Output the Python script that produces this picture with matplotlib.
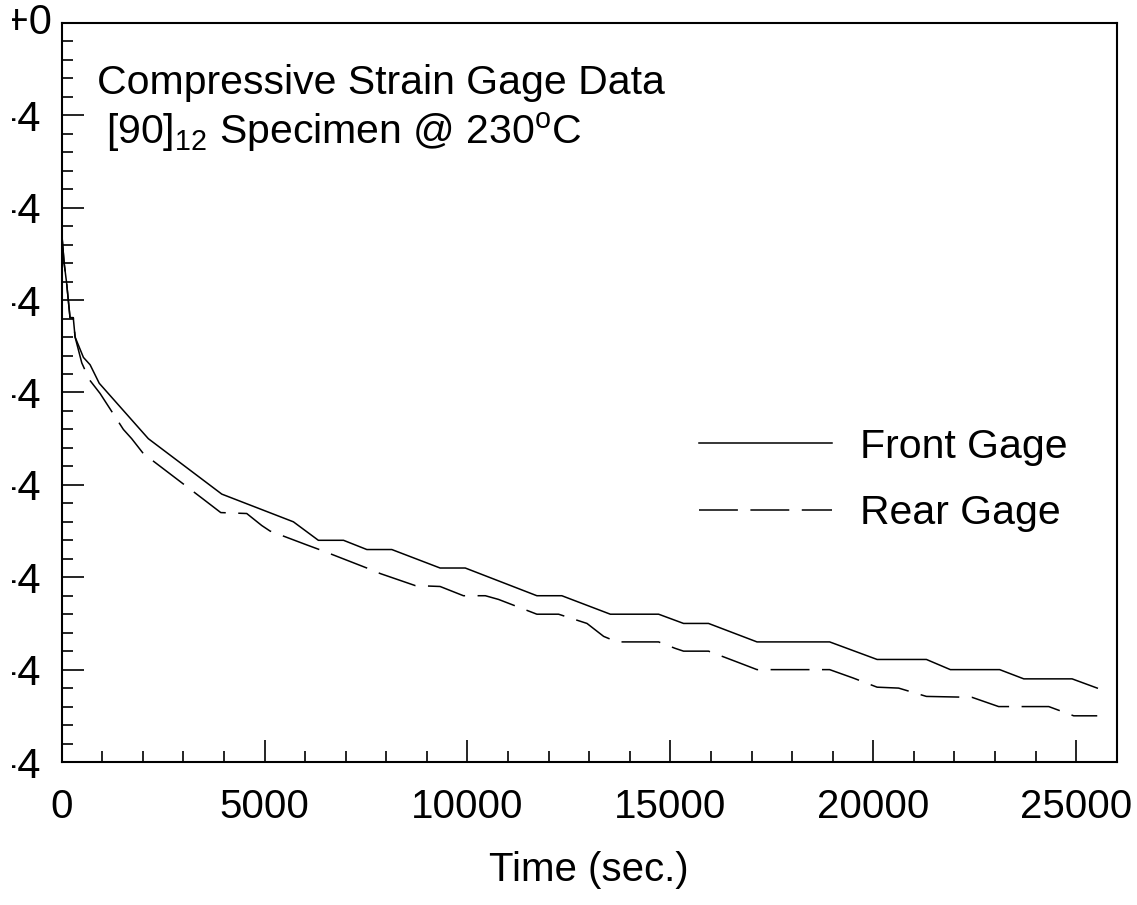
import numpy as np
import matplotlib
matplotlib.use("Agg")
import matplotlib.pyplot as plt
from matplotlib.ticker import MultipleLocator, FuncFormatter
from matplotlib.transforms import ScaledTranslation, Bbox, TransformedBbox

# ---- data (strain in units of 1E-4) ----
front_time = [0, 60, 120, 205, 285, 330, 535, 700, 925, 2135, 3945, 5710,
              6325, 6945, 7520, 8135, 9325, 9945, 11710, 12325, 13520, 14710,
              15325, 15940, 17135, 18925, 20095, 21310, 21900, 23115, 23710,
              24900, 25520]
front_strain = [-2.27, -2.60, -2.81, -3.19, -3.19, -3.40, -3.62, -3.70, -3.90,
                -4.50, -5.10, -5.40, -5.60, -5.60, -5.70, -5.70, -5.90, -5.90,
                -6.20, -6.20, -6.40, -6.40, -6.50, -6.50, -6.70, -6.70, -6.89,
                -6.89, -7.00, -7.00, -7.10, -7.10, -7.20]

rear_time = [0, 60, 120, 205, 285, 330, 495, 680, 945, 1520, 1725, 2010, 3475,
             3920, 4560, 4930, 5135, 6040, 6410, 7520, 7850, 8710, 9325, 9900,
             10440, 10765, 11710, 12245, 12945, 13355, 13685, 14710, 15120,
             15325, 15940, 16600, 17135, 18925, 19500, 20095, 20625, 21310,
             22435, 23090, 24325, 24940, 25520]
rear_strain = [-2.27, -2.60, -2.81, -3.19, -3.19, -3.40, -3.68, -3.86, -4.01,
               -4.40, -4.50, -4.66, -5.15, -5.30, -5.31, -5.44, -5.50, -5.65,
               -5.71, -5.90, -5.96, -6.09, -6.10, -6.20, -6.20, -6.24, -6.40,
               -6.40, -6.50, -6.64, -6.70, -6.70, -6.77, -6.80, -6.80, -6.91,
               -7.00, -7.00, -7.09, -7.19, -7.20, -7.29, -7.30, -7.40, -7.40,
               -7.50, -7.50]

SCALE = 1e-4

plt.rcParams["font.family"] = ["Liberation Sans", "DejaVu Sans"]
plt.rcParams["mathtext.fontset"] = "custom"
plt.rcParams["mathtext.rm"] = "Liberation Sans"
plt.rcParams["mathtext.default"] = "regular"
plt.rcParams["lines.scale_dashes"] = False

fig = plt.figure(figsize=(11.37, 9.05), dpi=100)
ax = fig.add_axes([0.05427, 0.15801, 0.92790, 0.81658])

ax.plot(front_time, np.array(front_strain) * SCALE, color="black", lw=1.1,
        label="Front Gage")
ax.plot(rear_time, np.array(rear_strain) * SCALE, color="black", lw=1.1,
        dashes=(28, 9), label="Rear Gage")

ax.set_xlim(0, 26000)
ax.set_ylim(-8 * SCALE, 0)

ax.xaxis.set_major_locator(MultipleLocator(5000))
ax.xaxis.set_minor_locator(MultipleLocator(1000))
ax.yaxis.set_major_locator(MultipleLocator(SCALE))
ax.yaxis.set_minor_locator(MultipleLocator(0.2 * SCALE))


def ylab(v, pos):
    if abs(v) < 1e-12:
        return "0.0E+0"
    return f"{v / SCALE:.1f}E-4"


ax.yaxis.set_major_formatter(FuncFormatter(ylab))

ax.tick_params(axis="both", which="major", direction="in", length=15.5,
               width=1.2)
ax.tick_params(axis="both", which="minor", direction="in", length=8,
               width=1.2)
ax.tick_params(axis="x", pad=19, labelsize=29)
ax.tick_params(axis="y", pad=15, labelsize=30)

for sp in ax.spines.values():
    sp.set_linewidth(1.5)

ax.set_xlabel("Time (sec.)", fontsize=29, labelpad=18)

ax.text(0.033, 0.919, "Compressive Strain Gage Data", transform=ax.transAxes,
        fontsize=29.5, va="center", ha="left")
ax.text(0.042, 0.853, r"[90]$_{12}$ Specimen @ 230$^{o}$C",
        transform=ax.transAxes, fontsize=29.5, va="center", ha="left")

ax.legend(loc="upper left", bbox_to_anchor=(0.6146, 0.5276),
          bbox_transform=fig.transFigure, frameon=False, fontsize=29.5,
          handlelength=3.25, handletextpad=0.68, labelspacing=0.70,
          borderpad=0, borderaxespad=0)

# the y labels are cut at the left edge, as in the original print
fig.canvas.draw()
clip = TransformedBbox(Bbox.from_extents(11.5 / 1137, 0, 1, 1), fig.transFigure)
for lab in ax.get_yticklabels():
    if lab.get_text() == "0.0E+0":
        lab.set_transform(lab.get_transform()
                          + ScaledTranslation(11 / 100, 4 / 100, fig.dpi_scale_trans))
    lab.set_clip_on(True)
    lab.set_clip_box(clip)

fig.savefig("out.png", dpi=100)
